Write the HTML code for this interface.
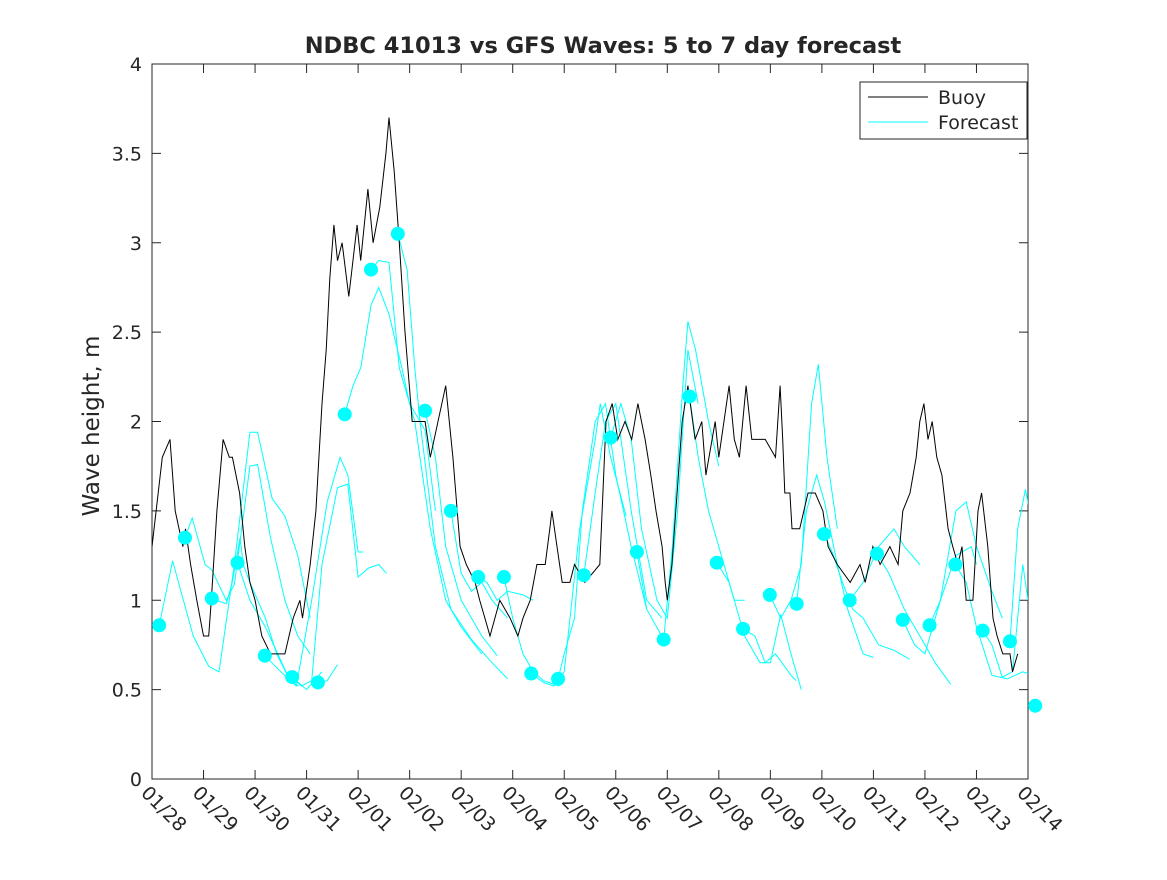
<!DOCTYPE html>
<html><head><meta charset="utf-8"><style>
body{margin:0;background:#fff}
svg text{font-family:"DejaVu Sans","Liberation Sans",sans-serif;fill:#262626}
</style></head><body>
<svg width="1167" height="875" viewBox="0 0 1167 875">
<defs><clipPath id="plotclip"><rect x="152" y="64" width="876" height="715"/></clipPath></defs>
<rect x="0" y="0" width="1167" height="875" fill="#fff"/>
<g id="axes"></g>
<g id="series" clip-path="url(#plotclip)"></g>
<g id="dots"></g>
<text x="603" y="53" text-anchor="middle" font-size="22.5" font-weight="bold" fill="#000">NDBC 41013 vs GFS Waves: 5 to 7 day forecast</text>
<text transform="translate(99,426) rotate(-90)" text-anchor="middle" font-size="23">Wave height, m</text>
<g>
<rect x="860" y="82" width="167" height="57" fill="#fff" stroke="#262626" stroke-width="1"/>
<line x1="868" y1="97" x2="928" y2="97" stroke="#000" stroke-width="1"/>
<text x="938" y="104" font-size="19">Buoy</text>
<line x1="868" y1="122" x2="928" y2="122" stroke="#00ffff" stroke-width="1"/>
<text x="938" y="129" font-size="19">Forecast</text>
</g>
</svg>
<script>
const xTickLabels=["01/28","01/29","01/30","01/31","02/01","02/02","02/03","02/04","02/05","02/06","02/07","02/08","02/09","02/10","02/11","02/12","02/13","02/14"];
const yTicks=[0,0.5,1,1.5,2,2.5,3,3.5,4];
const yTickLabels=["0","0.5","1","1.5","2","2.5","3","3.5","4"];
const buoyDays=[0,0.2,0.35,0.45,0.6,0.65,0.75,0.87,1.0,1.1,1.15,1.26,1.38,1.5,1.56,1.7,1.8,1.9,2.0,2.13,2.3,2.58,2.74,2.87,2.92,3.07,3.18,3.22,3.3,3.38,3.45,3.53,3.6,3.69,3.82,3.98,4.05,4.19,4.29,4.42,4.54,4.6,4.7,4.8,4.91,5.05,5.3,5.4,5.7,5.84,5.98,6.1,6.27,6.36,6.46,6.56,6.75,6.95,7.1,7.2,7.34,7.47,7.63,7.72,7.76,7.86,7.96,8.11,8.2,8.4,8.69,8.75,8.81,8.93,9.04,9.18,9.31,9.43,9.57,9.68,9.78,9.9,9.96,10.0,10.09,10.19,10.29,10.4,10.54,10.67,10.75,10.93,11.0,11.2,11.3,11.4,11.53,11.64,11.9,12.1,12.19,12.24,12.28,12.38,12.42,12.57,12.73,12.87,13.02,13.12,13.3,13.55,13.74,13.84,13.99,14.13,14.32,14.48,14.57,14.71,14.83,14.9,14.98,15.06,15.14,15.23,15.33,15.45,15.54,15.64,15.72,15.8,15.93,16.03,16.1,16.22,16.32,16.4,16.51,16.65,16.7,16.8];
const buoyHeights=[1.3,1.8,1.9,1.5,1.3,1.4,1.2,1.0,0.8,0.8,1.0,1.5,1.9,1.8,1.8,1.6,1.3,1.1,1.0,0.8,0.7,0.7,0.9,1.0,0.9,1.2,1.5,1.7,2.1,2.4,2.8,3.1,2.9,3.0,2.7,3.1,2.9,3.3,3.0,3.2,3.5,3.7,3.4,3.0,2.5,2.0,2.0,1.8,2.2,1.8,1.3,1.2,1.1,1.0,0.9,0.8,1.0,0.9,0.8,0.9,1.0,1.2,1.2,1.4,1.5,1.3,1.1,1.1,1.2,1.1,1.2,1.6,2.0,2.1,1.9,2.0,1.9,2.1,1.9,1.7,1.5,1.3,1.1,1.0,1.2,1.6,2.0,2.2,1.9,2.0,1.7,2.0,1.8,2.2,1.9,1.8,2.2,1.9,1.9,1.8,2.2,1.9,1.6,1.6,1.4,1.4,1.6,1.6,1.5,1.3,1.2,1.1,1.2,1.1,1.3,1.2,1.3,1.2,1.5,1.6,1.8,2.0,2.1,1.9,2.0,1.8,1.7,1.4,1.3,1.2,1.3,1.0,1.0,1.5,1.6,1.3,0.9,0.8,0.7,0.7,0.6,0.7];
const dotDays=[0.14,0.64,1.16,1.66,2.19,2.72,3.22,3.74,4.25,4.77,5.3,5.8,6.33,6.83,7.36,7.88,8.38,8.9,9.41,9.93,10.43,10.96,11.47,11.99,12.51,13.04,13.54,14.07,14.57,15.09,15.59,16.12,16.65,17.14];
const dotHeights=[0.86,1.35,1.01,1.21,0.69,0.57,0.54,2.04,2.85,3.05,2.06,1.50,1.13,1.13,0.59,0.56,1.14,1.91,1.27,0.78,2.14,1.21,0.84,1.03,0.98,1.37,1.00,1.26,0.89,0.86,1.20,0.83,0.77,0.41];
const fcDays=[
[0.14,0.4,0.8,1.1,1.3,1.6,1.9,2.05,2.33,2.58,2.83,3.07],
[0.64,0.78,1.03,1.16,1.44,1.6,1.9,2.05,2.3,2.58,2.83,3.07],
[1.16,1.44,1.55,1.71,1.77,1.9,2.2,2.42,2.68,2.85],
[1.66,1.9,2.2,2.6,3.0,3.3],
[2.19,2.5,2.8,3.1,3.4,3.65,3.8,4.0,4.1],
[2.72,2.9,3.1,3.3,3.6,3.8,4.0,4.2,4.4,4.55],
[3.22,3.4,3.6],
[3.74,3.9,4.05,4.25,4.4,4.6,4.85,5.0,5.3,5.5],
[4.25,4.4,4.6,4.8,5.1,5.4,5.7,6.0,6.4],
[4.77,4.95,5.1,5.2,5.5,5.8,6.2,6.6,6.9],
[5.3,5.5,5.7,6.0,6.4,6.7],
[5.8,6.0,6.2,6.4,6.6,6.9],
[6.33,6.5,6.7,6.9,7.2,7.4],
[6.83,7.0,7.2,7.4,7.6,7.9],
[7.36,7.6,7.8,8.0,8.3,8.6,8.7,8.9,9.2],
[7.88,8.0,8.2,8.35,8.6,8.8,9.0,9.3,9.6],
[8.38,8.6,8.8,9.0,9.3,9.6,9.9],
[8.9,9.1,9.3,9.5,9.8,10.0,10.2,10.4,10.6],
[9.41,9.6,9.93],
[9.93,10.1,10.3,10.4,10.55,10.8,11.0],
[10.43,10.6,10.8,11.0,11.3,11.5],
[10.96,11.2,11.5,11.8,12.0,12.2,12.4,12.6],
[11.47,11.7,11.9,12.1,12.4,12.5],
[11.99,12.2,12.4,12.6,12.8,12.93,13.1,13.3],
[12.51,12.7,12.9,13.05,13.3,13.5,13.8,14.0],
[13.04,13.2,13.4,13.6,13.8,14.1,14.4,14.7],
[13.54,13.8,14.1,14.4,14.6,14.9],
[14.07,14.3,14.6,14.9,15.2,15.5],
[14.57,14.8,15.0,15.3,15.6,15.9,16.0],
[15.09,15.3,15.6,15.8,16.0,16.3,16.5],
[15.59,15.8,16.0,16.3,16.6,16.9,17.0],
[16.12,16.3,16.5,16.7,16.9,17.0],
[16.65,16.8,16.95,17.1],
[17.0,17.14]];
const fcHeights=[
[0.86,1.22,0.8,0.63,0.6,1.2,1.94,1.94,1.57,1.47,1.25,0.9],
[1.35,1.46,1.2,1.17,1.0,1.09,1.75,1.76,1.35,1.0,0.8,0.7],
[1.01,0.98,1.09,1.35,1.2,1.1,0.9,0.7,0.55,0.52],
[1.21,1.0,0.85,0.6,0.5,0.6],
[0.69,0.6,0.52,1.0,1.55,1.8,1.7,1.27,1.27],
[0.57,0.52,0.55,1.2,1.63,1.65,1.13,1.18,1.2,1.15],
[0.54,0.55,0.64],
[2.04,2.2,2.3,2.65,2.75,2.6,2.3,2.1,1.95,1.5],
[2.85,2.9,2.89,2.3,2.0,1.4,1.0,0.85,0.7],
[3.05,2.85,2.3,2.0,1.3,0.95,0.78,0.65,0.56],
[2.06,1.8,1.3,1.0,0.8,0.69],
[1.5,1.15,1.05,1.1,1.0,0.9],
[1.13,1.1,1.0,1.05,1.03,1.0],
[1.13,0.9,0.7,0.6,0.55,0.52],
[0.59,0.54,0.52,0.6,1.4,1.9,2.1,1.8,1.47],
[0.56,0.7,0.9,1.5,2.0,2.1,1.7,1.3,0.95],
[1.14,1.6,2.0,2.1,1.5,1.0,0.9],
[1.91,2.1,1.9,1.4,1.0,0.9,1.5,2.4,2.1],
[1.27,0.95,0.78],
[0.78,1.3,2.2,2.56,2.4,2.0,1.75],
[2.14,1.8,1.5,1.3,1.0,1.0],
[1.21,1.1,0.8,0.65,0.65,0.92,0.7,0.5],
[0.84,0.8,0.65,0.7,0.58,0.55],
[1.03,0.9,1.0,1.2,2.1,2.32,1.8,1.4],
[0.98,1.5,1.7,1.55,1.2,0.95,0.7,0.68],
[1.37,1.27,1.1,0.95,0.9,0.75,0.72,0.67],
[1.0,1.1,1.3,1.4,1.3,1.2],
[1.26,1.15,0.95,0.8,0.65,0.53],
[0.89,0.75,0.7,1.0,1.25,1.3,1.2],
[0.86,1.0,1.5,1.55,1.3,1.05,0.9],
[1.2,1.1,0.85,0.58,0.56,0.6,0.59],
[0.83,0.75,0.57,0.6,1.2,1.0],
[0.77,1.4,1.62,1.4],
[1.04,1.0]];

const X0=152,X1=1028,Y0=779,Y1=64,DAYS=17,YMAX=4;
const xs=d=>X0+(X1-X0)*d/DAYS;
const ys=v=>Y0-(Y0-Y1)*v/YMAX;
const NS='http://www.w3.org/2000/svg';
function mk(tag,attrs,parent){const e=document.createElementNS(NS,tag);for(const k in attrs)e.setAttribute(k,attrs[k]);parent.appendChild(e);return e;}
const axes=document.getElementById('axes'),series=document.getElementById('series'),dots=document.getElementById('dots');

const frame=mk('rect',{x:X0,y:Y1,width:X1-X0,height:Y0-Y1,fill:'none',stroke:'#262626','stroke-width':1},axes);



yTicks.forEach((v,i)=>{
  const y=ys(v);
  const t1=mk('line',{x1:X0,y1:y,x2:X0+9,y2:y,stroke:'#262626'},axes);
  
  
  const t2=mk('line',{x1:X1-9,y1:y,x2:X1,y2:y,stroke:'#262626'},axes);
  
  
  const lb=mk('text',{x:X0-10,y:y+7,'text-anchor':'end','font-size':19},axes);
  lb.textContent=yTickLabels[i];
  
  
});
xTickLabels.forEach((s,i)=>{
  const x=xs(i);
  const t1=mk('line',{x1:x,y1:Y0,x2:x,y2:Y0-9,stroke:'#262626'},axes);
  
  
  const t2=mk('line',{x1:x,y1:Y1,x2:x,y2:Y1+9,stroke:'#262626'},axes);
  
  
  const lb=mk('text',{transform:`translate(${x-12},${Y0+15}) rotate(45)`,'font-size':19},axes);
  lb.textContent=s;
  
  
});

fcDays.forEach((ds,j)=>{
  const pts=ds.map((d,k)=>xs(d).toFixed(1)+','+ys(fcHeights[j][k]).toFixed(1)).join(' ');
  const pl=mk('polyline',{points:pts,fill:'none',stroke:'#00ffff','stroke-width':1},series);
  
  
});

const bp=buoyDays.map((d,k)=>xs(d).toFixed(1)+','+ys(buoyHeights[k]).toFixed(1));
const bl=mk('polyline',{points:bp.join(' '),fill:'none',stroke:'#000','stroke-width':1},series);



dotDays.forEach((d,k)=>{
  const c=mk('ellipse',{cx:xs(d),cy:ys(dotHeights[k]),rx:7,ry:7,fill:'#00ffff'},dots);
  
  
});
</script>
</body></html>
